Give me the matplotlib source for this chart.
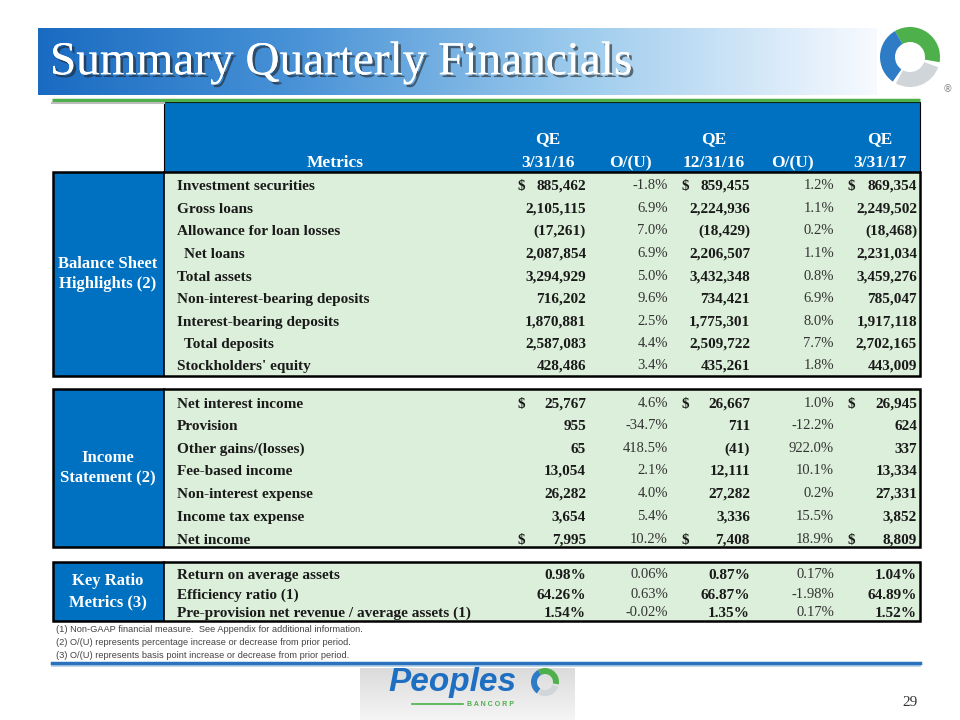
import numpy as np
import matplotlib
matplotlib.use("Agg")
import matplotlib.pyplot as plt
from matplotlib.patches import Rectangle, Wedge
from matplotlib import patheffects as pe

# ---- data ----
cols = ["3/31/16", "12/31/16", "3/31/17"]

bs_labels = ["Investment securities", "Gross loans", "Allowance for loan losses",
             "  Net loans", "Total assets", "Non-interest-bearing deposits",
             "Interest-bearing deposits", "  Total deposits", "Stockholders' equity"]
bs_q1 = [885462, 2105115, -17261, 2087854, 3294929, 716202, 1870881, 2587083, 428486]
bs_p1 = [-1.8, 6.9, 7.0, 6.9, 5.0, 9.6, 2.5, 4.4, 3.4]
bs_q2 = [859455, 2224936, -18429, 2206507, 3432348, 734421, 1775301, 2509722, 435261]
bs_p2 = [1.2, 1.1, 0.2, 1.1, 0.8, 6.9, 8.0, 7.7, 1.8]
bs_q3 = [869354, 2249502, -18468, 2231034, 3459276, 785047, 1917118, 2702165, 443009]
bs_dollar = [True, False, False, False, False, False, False, False, False]

is_labels = ["Net interest income", "Provision", "Other gains/(losses)", "Fee-based income",
             "Non-interest expense", "Income tax expense", "Net income"]
is_q1 = [25767, 955, 65, 13054, 26282, 3654, 7995]
is_p1 = [4.6, -34.7, 418.5, 2.1, 4.0, 5.4, 10.2]
is_q2 = [26667, 711, -41, 12111, 27282, 3336, 7408]
is_p2 = [1.0, -12.2, 922.0, 10.1, 0.2, 15.5, 18.9]
is_q3 = [26945, 624, 337, 13334, 27331, 3852, 8809]
is_dollar = [True, False, False, False, False, False, True]

kr_labels = ["Return on average assets", "Efficiency ratio (1)",
             "Pre-provision net revenue / average assets (1)"]
kr_q1 = [0.98, 64.26, 1.54]
kr_p1 = [0.06, 0.63, -0.02]
kr_q2 = [0.87, 66.87, 1.35]
kr_p2 = [0.17, -1.98, 0.17]
kr_q3 = [1.04, 64.89, 1.52]

footnotes = ["(1) Non-GAAP financial measure.  See Appendix for additional information.",
             "(2) O/(U) represents percentage increase or decrease from prior period.",
             "(3) O/(U) represents basis point increase or decrease from prior period."]

BLUE = "#0070C0"
GREEN_BG = "#DCEFDA"
SERIF = "Liberation Serif"


def fmt_num(v):
    s = f"{abs(v):,}"
    return f"({s})" if v < 0 else s


fig = plt.figure(figsize=(9.6, 7.2), dpi=100)
ax = fig.add_axes([0, 0, 1, 1])
ax.set_xlim(0, 960)
ax.set_ylim(720, 0)
ax.axis("off")

# title banner gradient
t = np.linspace(0, 1, 300)
stops = np.array([[0.10, 0.42, 0.76], [0.28, 0.57, 0.84], [0.62, 0.80, 0.93], [0.97, 0.98, 1.0]])
pos = [0, 0.3, 0.65, 1.0]
grad = np.stack([np.interp(t, pos, stops[:, i]) for i in range(3)], axis=-1)[None, :, :]
ax.imshow(grad, extent=(38, 877, 95, 28), aspect="auto", zorder=1)
ax.text(50, 63, "Summary Quarterly Financials", fontsize=34, color="white", family=SERIF,
        va="center", ha="left", zorder=3,
        path_effects=[pe.withSimplePatchShadow(offset=(2, -2), shadow_rgbFace="#222222", alpha=0.6),
                      pe.Normal()])


# ring logo
def ring_logo(cx, cy, r, w):
    ax.add_patch(Wedge((cx, cy), r, -120, 10, width=w, fc="#4DB04A", ec="none", zorder=3))
    ax.add_patch(Wedge((cx, cy), r, 125, 240, width=w, fc="#2E7CC6", ec="none", zorder=3))
    ax.add_patch(Wedge((cx, cy), r, 20, 118, width=w, fc="#D0D5D9", ec="none", zorder=3))


ring_logo(910, 57, 30, 15)
ax.text(948, 89, "®", fontsize=7, color="#888888", ha="center", va="center")

# green rule and header
ax.plot([52, 920], [100, 100], color="#4DB04A", lw=2.5, zorder=4, solid_capstyle="butt")
ax.plot([52, 164], [103, 103], color="#BBBBBB", lw=1.5, zorder=4)
ax.add_patch(Rectangle((164, 102), 756, 70, fc=BLUE, ec="black", lw=0.8, zorder=2))
hdr = dict(color="white", family=SERIF, fontweight="bold", fontsize=12.5, ha="center",
           va="baseline", zorder=5)
ax.text(335, 167, "Metrics", **hdr)
for x, c in zip([548, 714, 880], cols):
    ax.text(x, 143, "QE", **hdr)
    ax.text(x, 167, c, **hdr)
for x in [630, 792]:
    ax.text(x, 167, "O/(U)", **hdr)

val_right = [586, 750, 917]
dollar_x = [517, 682, 848]
pct_right = [668, 834]
lab = dict(family=SERIF, fontweight="bold", fontsize=11, color="#1a1a1a", va="baseline", zorder=5)
pct = dict(family=SERIF, fontsize=10.5, color="#333333", va="baseline", ha="right", zorder=5)


def section(top, bottom, ys, title, labels, qs, ps, dollars=None, ratio=False):
    h = bottom - top
    ax.add_patch(Rectangle((164, top), 756, h, fc=GREEN_BG, ec="none", zorder=2))
    ax.add_patch(Rectangle((53, top), 111, h, fc=BLUE, ec="none", zorder=2))
    ax.add_patch(Rectangle((53, top), 867, h, fc="none", ec="black", lw=1.8, zorder=4))
    ax.plot([164, 164], [top, bottom], color="black", lw=1.2, zorder=4)
    ax.text(108, (top + bottom) / 2, title, color="white", family=SERIF, fontweight="bold",
            fontsize=12, ha="center", va="center", linespacing=1.4, zorder=5)
    for i, y in enumerate(ys):
        yb = y + 5
        label = labels[i]
        x0 = 184 if label.startswith("  ") else 177
        ax.text(x0, yb, label.strip(), ha="left", **lab)
        for j in range(3):
            v = qs[j][i]
            s = f"{v:.2f}%" if ratio else fmt_num(v)
            ax.text(val_right[j], yb, s, ha="right", **lab)
            if dollars is not None and dollars[i]:
                ax.text(dollar_x[j], yb, "$", ha="left", **lab)
        for j in range(2):
            v = ps[j][i]
            s = f"{v:.2f}%" if ratio else f"{v:.1f}%"
            ax.text(pct_right[j], yb - 1, s, **pct)


section(172, 376, [185, 208, 230, 253, 276, 298, 321, 343, 365], "Balance Sheet\nHighlights (2)",
        bs_labels, [bs_q1, bs_q2, bs_q3], [bs_p1, bs_p2], bs_dollar)
section(389, 547, [403, 425, 448, 470, 493, 516, 539], "Income\nStatement (2)",
        is_labels, [is_q1, is_q2, is_q3], [is_p1, is_p2], is_dollar)
section(562, 621, [574, 594, 612], "Key Ratio\nMetrics (3)",
        kr_labels, [kr_q1, kr_q2, kr_q3], [kr_p1, kr_p2], ratio=True)

for y, f in zip([629.5, 642.5, 655.5], footnotes):
    ax.text(56, y, f, family="Liberation Sans", fontsize=6.7, color="#444444", va="center", ha="left")

# bottom rule
ax.plot([52, 920], [663, 663], color="#2A72BE", lw=2.5, zorder=4)
ax.plot([52, 920], [666, 666], color="#B5CDE4", lw=1.2, zorder=3)

# Peoples Bancorp logo
g = np.linspace(0.86, 0.96, 100)[:, None, None] * np.ones((1, 1, 3))
ax.imshow(g, extent=(360, 575, 720, 668), aspect="auto", zorder=1)
ax.text(388, 683, "Peoples", family="Liberation Sans", fontweight="bold", style="italic",
        fontsize=24, color="#1E6FC2", ha="left", va="center", zorder=5)
ax.plot([412, 463], [704, 704], color="#4DB04A", lw=1.2, zorder=5)
ax.text(467, 704, "B A N C O R P", family="Liberation Sans", fontweight="bold", fontsize=5,
        color="#4DB04A", ha="left", va="center", zorder=5)
ring_logo(545, 682, 14, 6)

ax.text(918, 703, "29", family=SERIF, fontsize=11, color="#333333", ha="right", va="center")

fig.savefig("out.png", dpi=100)
